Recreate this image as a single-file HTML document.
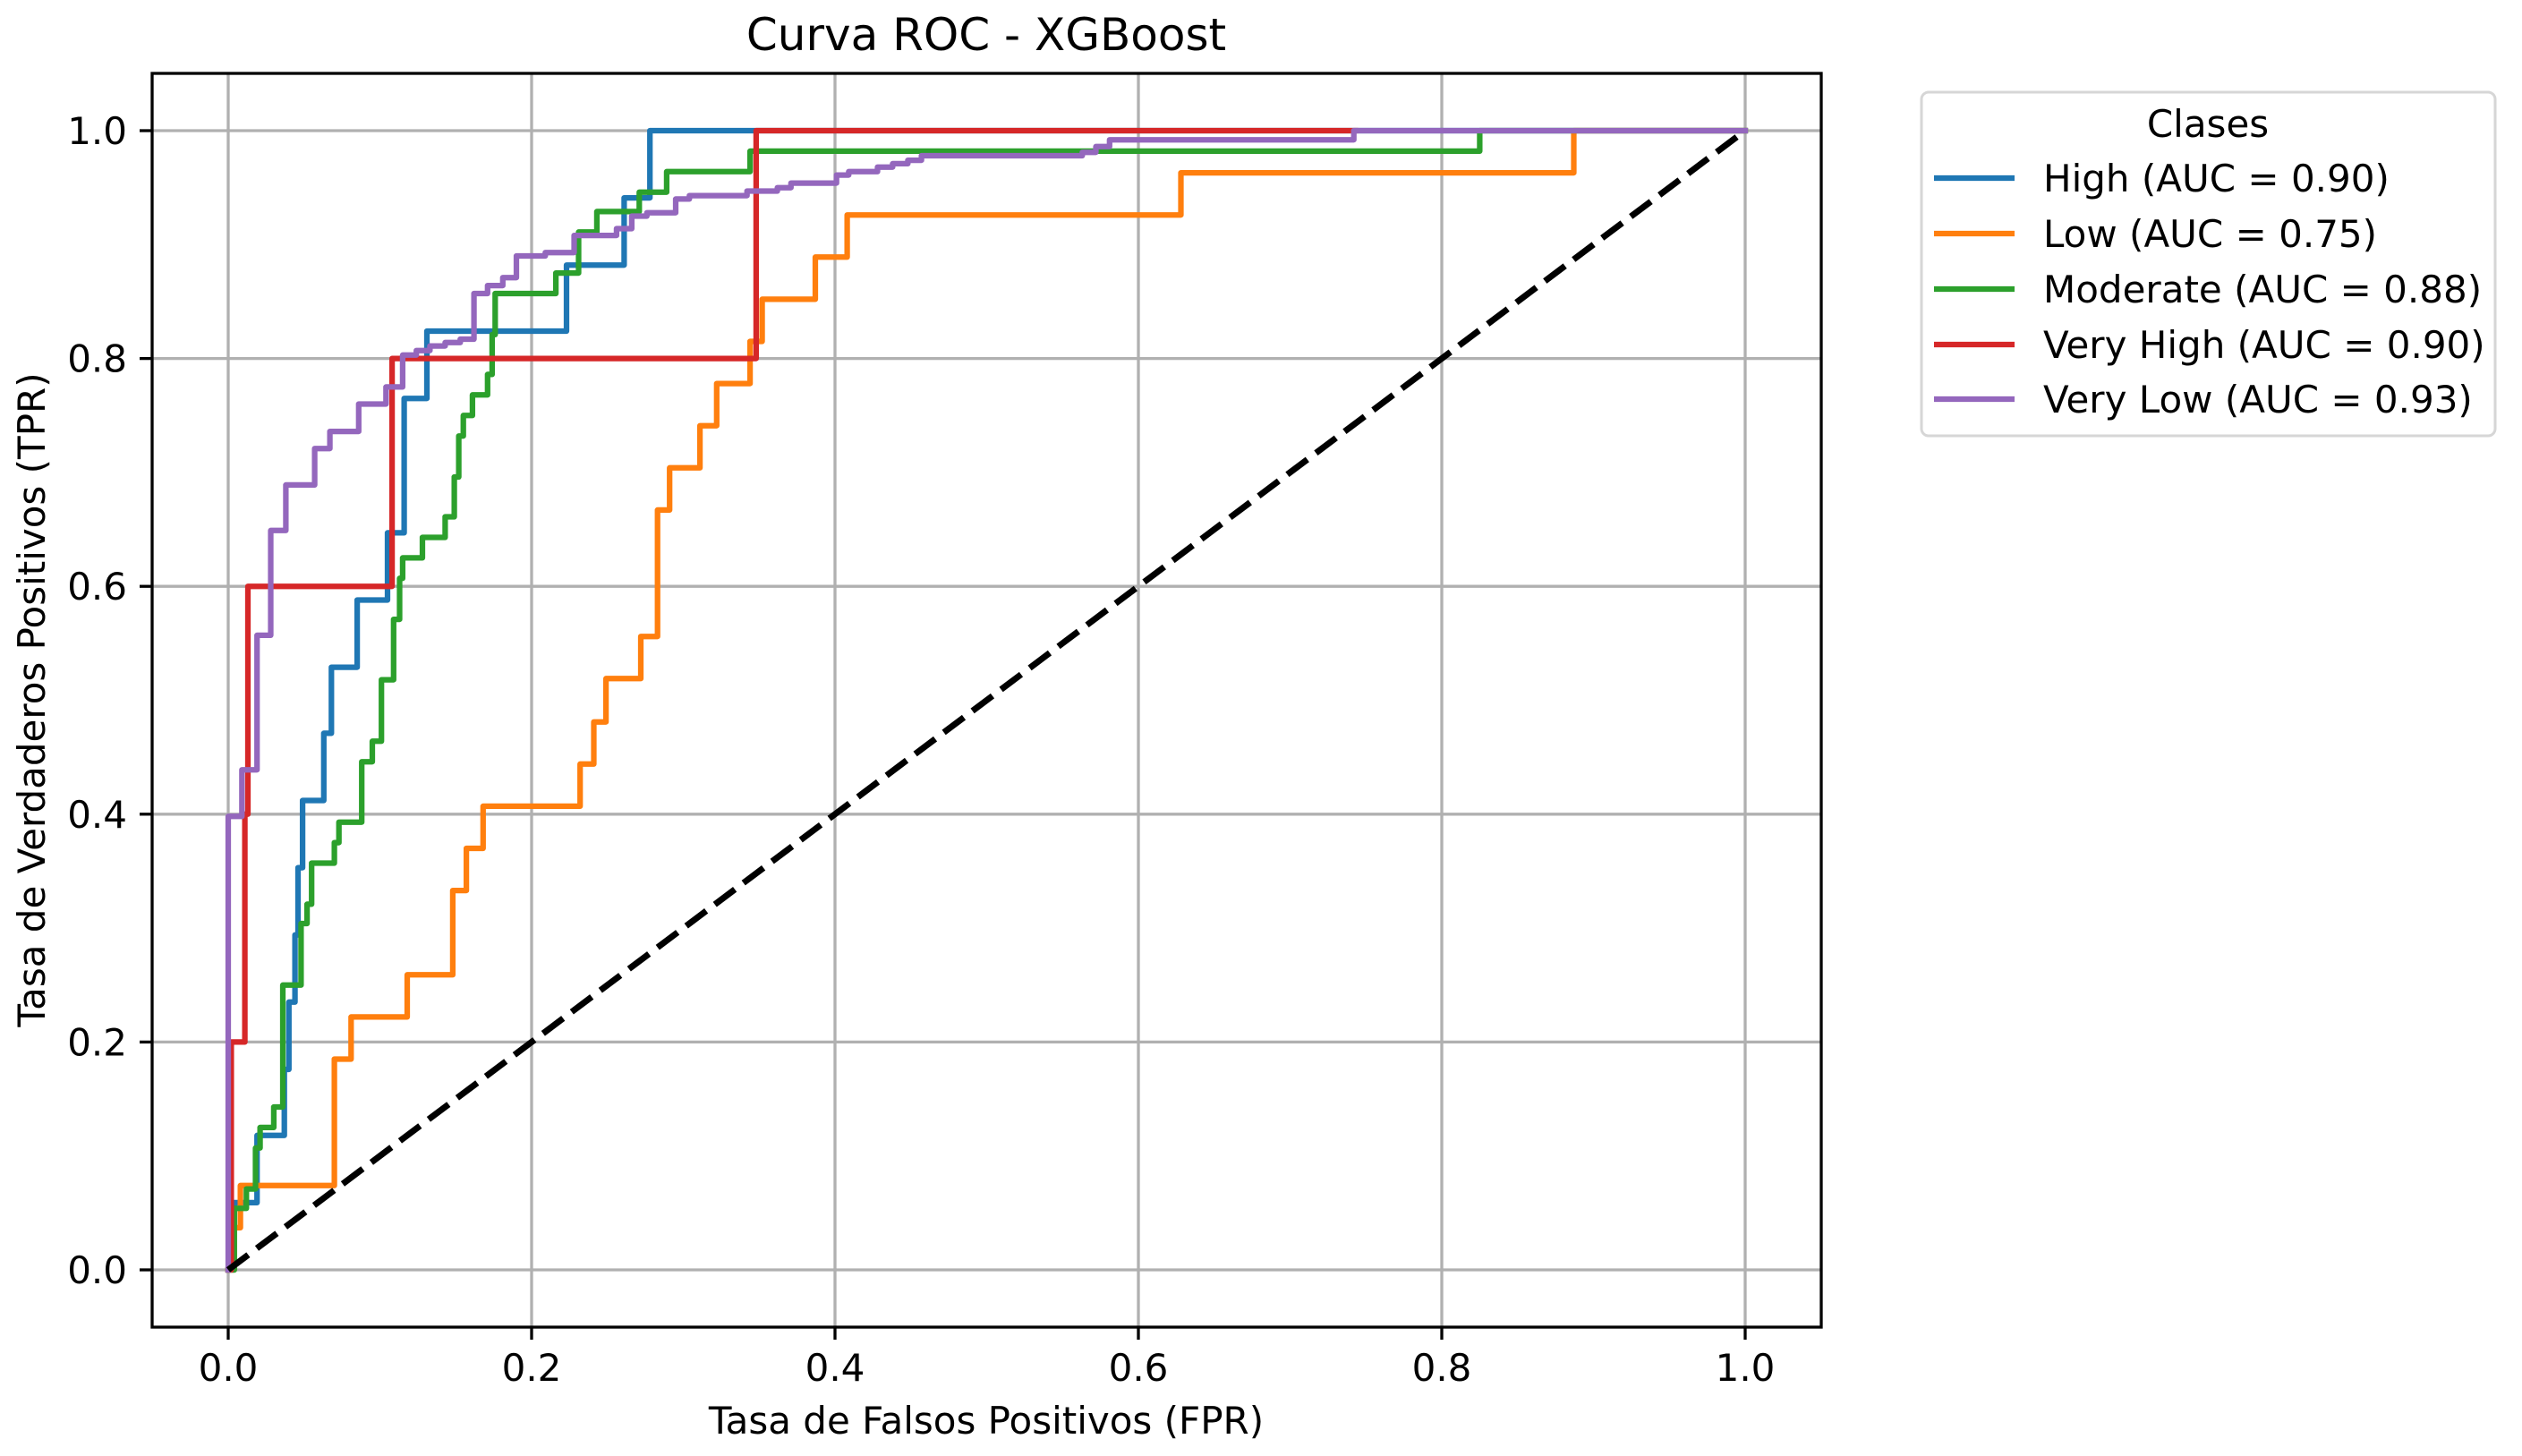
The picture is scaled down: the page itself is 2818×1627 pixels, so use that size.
<!DOCTYPE html>
<html><head><meta charset="utf-8"><style>
html,body{margin:0;padding:0;background:#fff;}
svg{display:block;font-family:"DejaVu Sans","Liberation Sans",sans-serif;}
</style></head><body>
<svg id="chart" width="2818" height="1627" viewBox="0 0 2818 1627" xmlns="http://www.w3.org/2000/svg">
<rect x="0" y="0" width="2818" height="1627" fill="#fff"/>
<text x="1102" y="56" font-size="50" text-anchor="middle">Curva ROC - XGBoost</text>
<g id="grid"></g>
<g id="series"></g>
<rect x="170" y="82" width="1865" height="1401" fill="none" stroke="#000" stroke-width="3.3"/>
<g id="ticks"></g>
<text x="1102" y="1602" font-size="42" text-anchor="middle">Tasa de Falsos Positivos (FPR)</text>
<text transform="translate(50,782) rotate(-90)" font-size="42" text-anchor="middle">Tasa de Verdaderos Positivos (TPR)</text>
<g>
<rect x="2147" y="103" width="641" height="384" rx="8" fill="#fff" stroke="#d6d6d6" stroke-width="3"/>
<text x="2467" y="153" font-size="42" text-anchor="middle">Clases</text>
<g id="legend-items"></g>
</g>
</svg>
<script>
const NS = "http://www.w3.org/2000/svg";
const xTicks = [0.0, 0.2, 0.4, 0.6, 0.8, 1.0];
const yTicks = [0.0, 0.2, 0.4, 0.6, 0.8, 1.0];
const tickLabels = ["0.0", "0.2", "0.4", "0.6", "0.8", "1.0"];
const seriesNames = ["High (AUC = 0.90)", "Low (AUC = 0.75)", "Moderate (AUC = 0.88)", "Very High (AUC = 0.90)", "Very Low (AUC = 0.93)"];
const seriesColors = ["#1f77b4", "#ff7f0e", "#2ca02c", "#d62728", "#9467bd"];
const highFpr = [0,0.004,0.004,0.019,0.019,0.037,0.037,0.040,0.040,0.044,0.044,0.046,0.046,0.049,0.049,0.063,0.063,0.068,0.068,0.085,0.085,0.105,0.105,0.116,0.116,0.131,0.131,0.223,0.223,0.261,0.261,0.278,0.278,1];
const highTpr = [0,0,0.059,0.059,0.118,0.118,0.176,0.176,0.235,0.235,0.294,0.294,0.353,0.353,0.412,0.412,0.471,0.471,0.529,0.529,0.588,0.588,0.647,0.647,0.765,0.765,0.824,0.824,0.882,0.882,0.941,0.941,1,1];
const lowFpr = [0,0.004,0.004,0.008,0.008,0.070,0.070,0.081,0.081,0.118,0.118,0.148,0.148,0.157,0.157,0.168,0.168,0.232,0.232,0.241,0.241,0.249,0.249,0.272,0.272,0.283,0.283,0.291,0.291,0.311,0.311,0.322,0.322,0.344,0.344,0.352,0.352,0.387,0.387,0.408,0.408,0.628,0.628,0.887,0.887,1];
const lowTpr = [0,0,0.037,0.037,0.074,0.074,0.185,0.185,0.222,0.222,0.259,0.259,0.333,0.333,0.370,0.370,0.407,0.407,0.444,0.444,0.481,0.481,0.519,0.519,0.556,0.556,0.667,0.667,0.704,0.704,0.741,0.741,0.778,0.778,0.815,0.815,0.852,0.852,0.889,0.889,0.926,0.926,0.963,0.963,1,1];
const modFpr = [0,0.004,0.004,0.012,0.012,0.018,0.018,0.021,0.021,0.030,0.030,0.036,0.036,0.048,0.048,0.052,0.052,0.055,0.055,0.070,0.070,0.073,0.073,0.088,0.088,0.095,0.095,0.101,0.101,0.109,0.109,0.113,0.113,0.115,0.115,0.128,0.128,0.143,0.143,0.149,0.149,0.152,0.152,0.155,0.155,0.161,0.161,0.171,0.171,0.174,0.174,0.176,0.176,0.216,0.216,0.231,0.231,0.243,0.243,0.271,0.271,0.289,0.289,0.344,0.344,0.825,0.825,1];
const modTpr = [0,0,0.054,0.054,0.071,0.071,0.107,0.107,0.125,0.125,0.143,0.143,0.250,0.250,0.304,0.304,0.321,0.321,0.357,0.357,0.375,0.375,0.393,0.393,0.446,0.446,0.464,0.464,0.518,0.518,0.571,0.571,0.607,0.607,0.625,0.625,0.643,0.643,0.661,0.661,0.696,0.696,0.732,0.732,0.750,0.750,0.768,0.768,0.786,0.786,0.821,0.821,0.857,0.857,0.875,0.875,0.911,0.911,0.929,0.929,0.946,0.946,0.964,0.964,0.982,0.982,1,1];
const vhFpr = [0,0.002,0.002,0.011,0.011,0.013,0.013,0.108,0.108,0.348,0.348,0.743];
const vhTpr = [0,0,0.2,0.2,0.4,0.4,0.6,0.6,0.8,0.8,1,1];
const vlFpr = [0,0,0.009,0.009,0.019,0.019,0.028,0.028,0.038,0.038,0.057,0.057,0.067,0.067,0.086,0.086,0.104,0.104,0.115,0.115,0.124,0.124,0.133,0.133,0.143,0.143,0.153,0.153,0.162,0.162,0.171,0.171,0.181,0.181,0.190,0.190,0.209,0.209,0.228,0.228,0.256,0.256,0.266,0.266,0.276,0.276,0.295,0.295,0.304,0.304,0.342,0.342,0.362,0.362,0.371,0.371,0.401,0.401,0.409,0.409,0.428,0.428,0.438,0.438,0.448,0.448,0.457,0.457,0.563,0.563,0.572,0.572,0.581,0.581,0.742,0.742,1];
const vlTpr = [0,0.398,0.398,0.439,0.439,0.557,0.557,0.649,0.649,0.689,0.689,0.721,0.721,0.736,0.736,0.760,0.760,0.775,0.775,0.803,0.803,0.807,0.807,0.811,0.811,0.814,0.814,0.817,0.817,0.857,0.857,0.864,0.864,0.871,0.871,0.890,0.890,0.893,0.893,0.908,0.908,0.914,0.914,0.925,0.925,0.928,0.928,0.940,0.940,0.943,0.943,0.947,0.947,0.950,0.950,0.954,0.954,0.961,0.961,0.964,0.964,0.968,0.968,0.971,0.971,0.974,0.974,0.978,0.978,0.981,0.981,0.986,0.986,0.992,0.992,1,1];
const diagX = [0, 1];
const diagY = [0, 1];

const xs = v => 255 + 1695 * v;
const ys = v => 1419 - 1273 * v;

const grid = document.getElementById('grid');
const ticks = document.getElementById('ticks');
xTicks.forEach((t, i) => {
  const g = document.createElementNS(NS, 'line');
  g.setAttribute('x1', xs(t)); g.setAttribute('x2', xs(t));
  g.setAttribute('y1', 82); g.setAttribute('y2', 1483);
  g.setAttribute('stroke', '#b0b0b0'); g.setAttribute('stroke-width', 3.3);
  
  
  grid.appendChild(g);
  const tk = document.createElementNS(NS, 'line');
  tk.setAttribute('x1', xs(t)); tk.setAttribute('x2', xs(t));
  tk.setAttribute('y1', 1483); tk.setAttribute('y2', 1497);
  tk.setAttribute('stroke', '#000'); tk.setAttribute('stroke-width', 3.3);
  
  
  ticks.appendChild(tk);
  const tx = document.createElementNS(NS, 'text');
  tx.setAttribute('x', xs(t)); tx.setAttribute('y', 1543);
  tx.setAttribute('font-size', 42); tx.setAttribute('text-anchor', 'middle');
  tx.textContent = tickLabels[i];
  
  
  ticks.appendChild(tx);
});
yTicks.forEach((t, i) => {
  const g = document.createElementNS(NS, 'line');
  g.setAttribute('y1', ys(t)); g.setAttribute('y2', ys(t));
  g.setAttribute('x1', 170); g.setAttribute('x2', 2035);
  g.setAttribute('stroke', '#b0b0b0'); g.setAttribute('stroke-width', 3.3);
  
  
  grid.appendChild(g);
  const tk = document.createElementNS(NS, 'line');
  tk.setAttribute('y1', ys(t)); tk.setAttribute('y2', ys(t));
  tk.setAttribute('x1', 156); tk.setAttribute('x2', 170);
  tk.setAttribute('stroke', '#000'); tk.setAttribute('stroke-width', 3.3);
  
  
  ticks.appendChild(tk);
  const tx = document.createElementNS(NS, 'text');
  tx.setAttribute('x', 142); tx.setAttribute('y', ys(t) + 15);
  tx.setAttribute('font-size', 42); tx.setAttribute('text-anchor', 'end');
  tx.textContent = tickLabels[i];
  
  
  ticks.appendChild(tx);
});

const series = document.getElementById('series');
const allX = [highFpr, lowFpr, modFpr, vhFpr, vlFpr];
const allY = [highTpr, lowTpr, modTpr, vhTpr, vlTpr];
const seriesKeys = ['high', 'low', 'moderate', 'very-high', 'very-low'];
allX.forEach((fx, k) => {
  const fy = allY[k];
  const pts = fx.map((v, i) => xs(v).toFixed(1) + ',' + ys(fy[i]).toFixed(1)).join(' ');
  const pl = document.createElementNS(NS, 'polyline');
  pl.setAttribute('points', pts);
  pl.setAttribute('fill', 'none');
  pl.setAttribute('stroke', seriesColors[k]);
  pl.setAttribute('stroke-width', 6.25);
  pl.setAttribute('stroke-linejoin', 'round');
  pl.setAttribute('stroke-linecap', 'square');
  
  
  series.appendChild(pl);
});
const dl = document.createElementNS(NS, 'line');
dl.setAttribute('x1', xs(diagX[0])); dl.setAttribute('y1', ys(diagY[0]));
dl.setAttribute('x2', xs(diagX[1])); dl.setAttribute('y2', ys(diagY[1]));
dl.setAttribute('stroke', '#000'); dl.setAttribute('stroke-width', 7);
dl.setAttribute('stroke-dasharray', '28 12');


series.appendChild(dl);

const li = document.getElementById('legend-items');
const legendY = [199, 261, 323, 385, 446];
seriesNames.forEach((n, k) => {
  const l = document.createElementNS(NS, 'line');
  l.setAttribute('x1', 2161); l.setAttribute('x2', 2251);
  l.setAttribute('y1', legendY[k]); l.setAttribute('y2', legendY[k]);
  l.setAttribute('stroke', seriesColors[k]); l.setAttribute('stroke-width', 6.25);
  
  
  li.appendChild(l);
  const t = document.createElementNS(NS, 'text');
  t.setAttribute('x', 2283); t.setAttribute('y', legendY[k] + 15);
  t.setAttribute('font-size', 42);
  t.textContent = n;
  
  
  li.appendChild(t);
});
</script>
</body></html>
